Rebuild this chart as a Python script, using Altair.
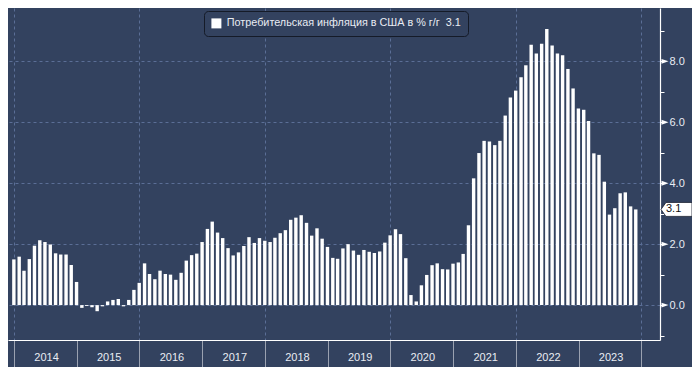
import altair as alt
import pandas as pd

# ---- data ----
start_month_end = "2013-12-31"
v2013 = [1.50]
v2014 = [1.59, 1.13, 1.51, 1.95, 2.13, 2.07, 1.99, 1.70, 1.66, 1.66, 1.32, 0.76]
v2015 = [-0.09, -0.03, -0.07, -0.20, -0.04, 0.12, 0.17, 0.20, -0.04, 0.17, 0.50, 0.73]
v2016 = [1.37, 1.02, 0.85, 1.13, 1.02, 1.00, 0.83, 1.06, 1.46, 1.64, 1.69, 2.07]
v2017 = [2.50, 2.74, 2.38, 2.20, 1.87, 1.63, 1.73, 1.94, 2.23, 2.04, 2.20, 2.11]
v2018 = [2.07, 2.21, 2.36, 2.46, 2.80, 2.87, 2.95, 2.70, 2.28, 2.52, 2.18, 1.91]
v2019 = [1.55, 1.52, 1.86, 2.00, 1.79, 1.65, 1.81, 1.75, 1.71, 1.76, 2.05, 2.29]
v2020 = [2.49, 2.33, 1.54, 0.33, 0.12, 0.65, 0.99, 1.31, 1.37, 1.18, 1.17, 1.36]
v2021 = [1.40, 1.68, 2.62, 4.16, 4.99, 5.39, 5.37, 5.25, 5.39, 6.22, 6.81, 7.04]
v2022 = [7.48, 7.87, 8.54, 8.26, 8.58, 9.06, 8.52, 8.26, 8.20, 7.75, 7.11, 6.45]
v2023 = [6.41, 6.04, 4.98, 4.93, 4.05, 2.97, 3.18, 3.67, 3.70, 3.24, 3.14]

series_name = "Потребительская инфляция в США в % г/г\u00a0\u00a03.1"
last_label = "3.1"
years = list(range(2014, 2025))
y_ticks = list(range(-1, 10))
y_labelled = [0, 2, 4, 6, 8]

values = v2013 + v2014 + v2015 + v2016 + v2017 + v2018 + v2019 + v2020 + v2021 + v2022 + v2023
dates = [d.strftime("%Y-%m-%d") for d in pd.date_range(start=start_month_end, periods=len(values), freq="ME")]

df = pd.DataFrame({"date": dates, "value": values, "series": series_name})
df_last = pd.DataFrame({"date": [dates[-1]], "value": [values[-1]], "label": [last_label]})
df_marks = pd.DataFrame({"value": y_labelled})

# ---- style ----
W, H = 652, 332
BG = "#33425f"
GRID = "#5b6e96"
TXT = "#e9ecf3"
FONT = "Liberation Sans"

x_scale = alt.Scale(
    type="utc",
    domain=[alt.DateTime(year=2013, month=12, date=26, utc=True),
            alt.DateTime(year=2024, month=3, date=21, utc=True)],
    nice=False,
)
y_scale = alt.Scale(domain=[-1.145, 9.75], nice=False)

x_axis = alt.Axis(
    values=[alt.DateTime(year=y, month=1, date=1, utc=True) for y in years],
    title=None,
    labelExpr="utcyear(datum.value) < 2024 ? utcFormat(datum.value, '%Y') : ''",
    labelOffset=32, labelAlign="center", labelBaseline="middle", labelPadding=-10,
    labelFlush=False, labelOverlap=False,
    labelColor=TXT, labelFont=FONT, labelFontSize=11,
    tickSize=27, tickColor="#9aa1b0", tickWidth=1,
    domainColor="#ffffff", domainWidth=1.2,
    grid=True, gridColor=GRID, gridDash=[3, 3], gridWidth=1,
    gridOpacity={"condition": {"test": "utcyear(datum.value) % 2 === 0", "value": 1}, "value": 0},
)
y_axis = alt.Axis(
    orient="right", values=y_ticks, title=None,
    labelExpr="datum.value % 2 === 0 ? format(datum.value, '.1f') : ''",
    labelColor=TXT, labelFont=FONT, labelFontSize=11, labelPadding=5,
    labelOverlap=False,
    tickSize=4, tickColor="#ffffff",
    domainColor="#ffffff", domainWidth=1.2,
    grid=True, gridColor=GRID, gridDash=[3, 3], gridWidth=1,
    gridOpacity={"condition": {"test": "datum.value % 2 === 0", "value": 1}, "value": 0},
)

bars = alt.Chart(df).mark_bar(size=3.4).encode(
    x=alt.X("date:T", scale=x_scale, axis=x_axis),
    y=alt.Y("value:Q", scale=y_scale, axis=y_axis),
    y2=alt.datum(0),
    color=alt.Color(
        "series:N",
        scale=alt.Scale(range=["#ffffff"]),
        legend=alt.Legend(
            title=None, orient="none", legendX=196, legendY=3,
            fillColor=BG, strokeColor="#151b28", cornerRadius=4, padding=7,
            symbolType="square", symbolSize=100, symbolStrokeWidth=0,
            symbolFillColor="#ffffff",
            labelColor=TXT, labelFont=FONT, labelFontSize=10.8, labelLimit=500, labelOffset=5,
        ),
    ),
)

POINTER = "M-1,-0.7 L1,0 L-1,0.7 Z"
pointers = alt.Chart(df_marks).mark_point(
    shape=POINTER, filled=True, fill="#ffffff", strokeWidth=0, size=49, opacity=1,
).encode(
    x=alt.value(W + 5),
    y=alt.Y("value:Q", scale=y_scale, axis=y_axis),
)

TAG_PATH = "M-1,0 L-0.68,-0.45 L1,-0.45 L1,0.45 L-0.68,0.45 Z"
tag = alt.Chart(df_last).mark_point(
    shape=TAG_PATH, filled=True, fill="#ffffff", stroke="#1a2030", strokeWidth=0.8,
    size=961, opacity=1,
).encode(
    x=alt.value(W + 16.5),
    y=alt.Y("value:Q", scale=y_scale, axis=y_axis),
)
tag_text = alt.Chart(df_last).mark_text(
    align="left", baseline="middle", font=FONT, fontSize=11, color="#111111",
).encode(
    x=alt.value(W + 6),
    y=alt.Y("value:Q", scale=y_scale, axis=y_axis),
    text="label:N",
)

chart = alt.layer(bars, pointers, tag, tag_text).properties(
    width=W, height=H,
    autosize=alt.AutoSizeParams(type="none"),
    padding={"left": 0, "top": 0, "right": 32, "bottom": 27},
    background=BG,
).configure_view(strokeOpacity=0)

chart.save("out.html", embed_options={"renderer": "svg", "actions": False})
